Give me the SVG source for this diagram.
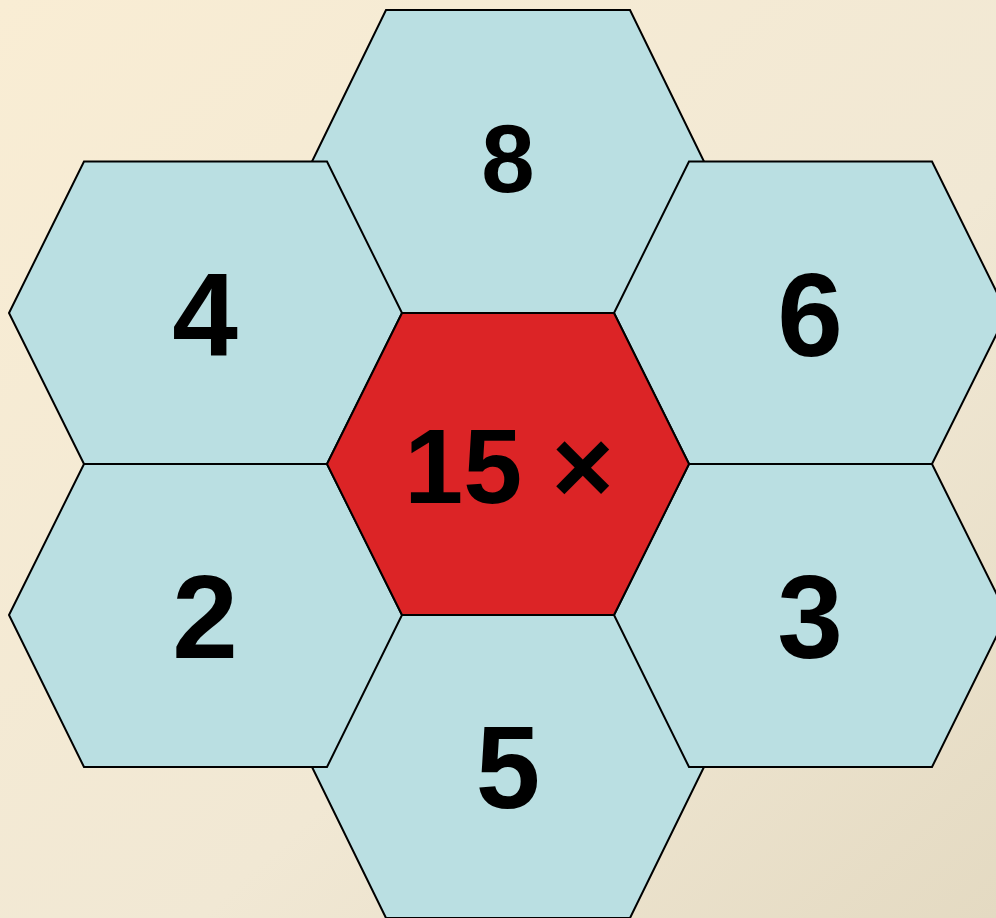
<svg xmlns="http://www.w3.org/2000/svg" width="996" height="918" viewBox="0 0 996 918">
  <defs>
    <linearGradient id="bg" x1="0" y1="0" x2="1" y2="1">
      <stop offset="0" stop-color="#f9edd4"/>
      <stop offset="0.6" stop-color="#f1e8d4"/>
      <stop offset="1" stop-color="#e4dac2"/>
    </linearGradient>
    <style>
      .hex { fill: #badfe2; stroke: #000; stroke-width: 2; stroke-linejoin: miter; }
      .center { fill: #dc2426; stroke: #000; stroke-width: 2; }
      .lbl { font-family: "Liberation Sans", Arial, sans-serif; font-weight: bold; fill: #000; text-anchor: middle; }
    </style>
  </defs>
  <rect width="996" height="918" fill="url(#bg)"/>

  <g id="hex-8">
    <polygon class="hex" points="386,10 630,10 704,161.5 630,313 386,313 312,161.5"/>
    <text class="lbl" x="508" y="191.5" font-size="96">8</text>
  </g>
  <g id="hex-5">
    <polygon class="hex" points="386,615 630,615 704,767 630,918 386,918 312,767"/>
    <text class="lbl" x="508" y="808" font-size="116">5</text>
  </g>
  <g id="hex-4">
    <polygon class="hex" points="84,161.5 327,161.5 402,313 327,464 84,464 9,313"/>
    <text class="lbl" x="205" y="356" font-size="118">4</text>
  </g>
  <g id="hex-6">
    <polygon class="hex" points="689,161.5 932,161.5 1007,313 932,464 689,464 614,313"/>
    <text class="lbl" x="810" y="356" font-size="118">6</text>
  </g>
  <g id="hex-2">
    <polygon class="hex" points="84,464 327,464 402,615 327,767 84,767 9,615"/>
    <text class="lbl" x="205" y="657.5" font-size="118">2</text>
  </g>
  <g id="hex-3">
    <polygon class="hex" points="689,464 932,464 1007,615 932,767 689,767 614,615"/>
    <text class="lbl" x="810" y="657.5" font-size="118">3</text>
  </g>
  <g id="hex-center">
    <polygon class="center" points="402,313 614,313 689,464 614,615 402,615 327,464"/>
    <text class="lbl" x="509" y="502.5" font-size="106">15 ×</text>
  </g>
  <g id="connectors"/>
</svg>
